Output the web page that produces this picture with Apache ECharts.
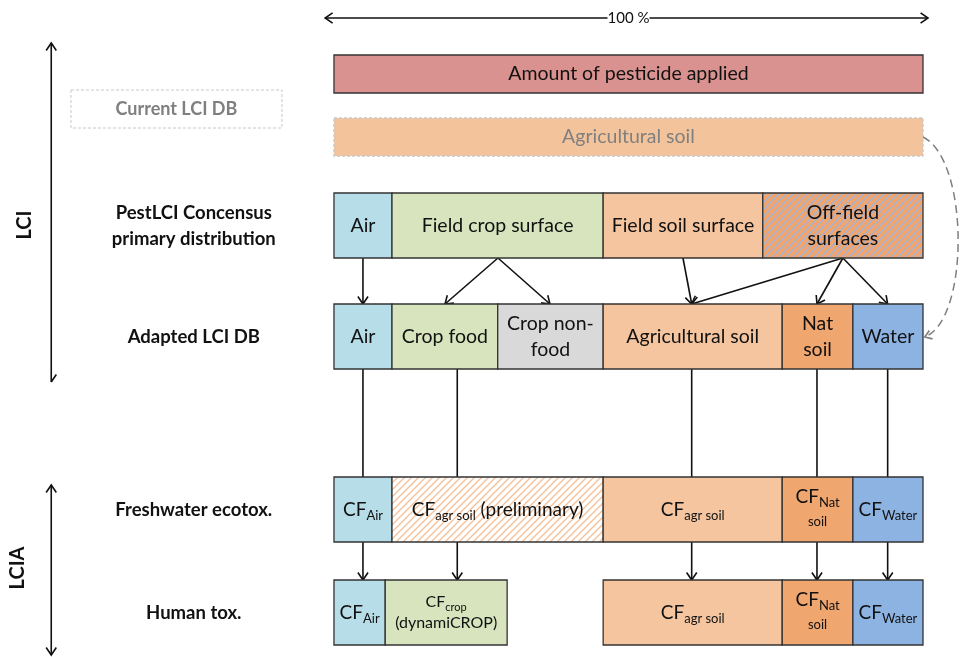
<!DOCTYPE html>
<html>
<head>
<meta charset="utf-8">
<title>Pesticide emission distribution</title>
<script src="https://cdn.jsdelivr.net/npm/echarts@6/dist/echarts.min.js"></script>
<style>
  html, body { margin: 0; padding: 0; background: #fff; }
  #main { width: 965px; height: 657px; }
</style>
</head>
<body>
<div id="main"></div>
<script>
// vertical extent of every level (picture units, top = 0)
const rowTop = [55, 118, 193, 304, 477, 580];
const rowBottom = [93, 156, 258, 369, 542, 645];
const rowTitles = ['', '', 'PestLCI Concensus\nprimary distribution', 'Adapted LCI DB', 'Freshwater ecotox.', 'Human tox.'];

// compartments: share of the applied amount, in % of the width
const amountEdges = [0, 100];
const currentEdges = [0, 100];
const primaryEdges = [0, 9.85, 45.7, 72.8, 100];
const adaptedEdges = [0, 9.85, 27.8, 45.7, 76.1, 88.1, 100];
const ecotoxEdges = [0, 9.85, 45.7, 76.1, 88.1, 100];
const humanStart = [0, 8.7, 45.7, 76.1, 88.1];
const humanEnd = [8.7, 29.4, 76.1, 88.1, 100];

const amountLabels = ['Amount of pesticide applied'];
const currentLabels = ['Agricultural soil'];
const primaryLabels = ['Air', 'Field crop surface', 'Field soil surface', 'Off-field\nsurfaces'];
const adaptedLabels = ['Air', 'Crop food', 'Crop non-\nfood', 'Agricultural soil', 'Nat\nsoil', 'Water'];
const ecotoxLabels = ['{cf|CF}{sub|Air}', '{cf|CF}{sub|agr soil}{cf| (preliminary)}', '{cf|CF}{sub|agr soil}', '{cf|CF}{sub|Nat}\n{sub2|soil}', '{cf|CF}{sub|Water}'];
const humanLabels = ['{cf|CF}{sub|Air}', '{g|CF}{gs|crop}\n{g|(dynamiCROP)}', '{cf|CF}{sub|agr soil}', '{cf|CF}{sub|Nat}\n{sub2|soil}', '{cf|CF}{sub|Water}'];

const amountKinds = ['applied'];
const currentKinds = ['current'];
const primaryKinds = ['air', 'crop', 'soil', 'offfield'];
const adaptedKinds = ['air', 'crop', 'nonfood', 'soil', 'nat', 'water'];
const ecotoxKinds = ['air', 'prelim', 'soil', 'nat', 'water'];
const humanKinds = ['air', 'crop', 'soil', 'nat', 'water'];

// flows between levels (x in %)
const primaryFlowFrom = [4.92, 27.84, 27.84, 59.25, 86.4, 86.4, 86.4];
const primaryFlowTo = [4.92, 18.85, 36.67, 60.73, 60.73, 82.0, 94.0];
const impactFlowX = [4.92, 20.93, 60.73, 82.0, 94.0];

const FONT = 'Lato, "Noto Sans", sans-serif';
const INK = '#111';

function hatch(bg, fg) {
  const c = document.createElement('canvas');
  c.width = c.height = 7;
  const ctx = c.getContext('2d');
  ctx.fillStyle = bg;
  ctx.fillRect(0, 0, 7, 7);
  ctx.strokeStyle = fg;
  ctx.lineWidth = 1.3;
  ctx.beginPath();
  ctx.moveTo(-1, 8); ctx.lineTo(8, -1);
  ctx.moveTo(-1, 1); ctx.lineTo(1, -1);
  ctx.moveTo(6, 8); ctx.lineTo(8, 6);
  ctx.stroke();
  return { image: c, repeat: 'repeat' };
}

const kindStyle = {
  applied: { fill: '#d9928f', stroke: '#333' },
  current: { fill: '#f3c49c', stroke: '#c8c8c8', dash: [3, 2], color: '#7f7f7f' },
  air: { fill: '#b7dde8', stroke: '#333' },
  crop: { fill: '#d7e4bd', stroke: '#333' },
  nonfood: { fill: '#d9d9d9', stroke: '#333' },
  soil: { fill: '#f4c59f', stroke: '#333' },
  nat: { fill: '#efa66f', stroke: '#333' },
  water: { fill: '#8db3e2', stroke: '#333' },
  offfield: { fill: hatch('#f1a56d', '#9fb4dc'), stroke: '#333' },
  prelim: { fill: hatch('#ffffff', '#f7bf95'), stroke: '#333' }
};

const boxes = [];
function addRow(r, starts, ends, labels, kinds) {
  labels.forEach(function (lab, i) {
    boxes.push({ x0: starts[i], x1: ends[i], y0: rowTop[r], y1: rowBottom[r], label: lab, kind: kinds[i] });
  });
}
addRow(0, amountEdges, amountEdges.slice(1), amountLabels, amountKinds);
addRow(1, currentEdges, currentEdges.slice(1), currentLabels, currentKinds);
addRow(2, primaryEdges, primaryEdges.slice(1), primaryLabels, primaryKinds);
addRow(3, adaptedEdges, adaptedEdges.slice(1), adaptedLabels, adaptedKinds);
addRow(4, ecotoxEdges, ecotoxEdges.slice(1), ecotoxLabels, ecotoxKinds);
addRow(5, humanStart, humanEnd, humanLabels, humanKinds);

const links = [];
primaryFlowFrom.forEach(function (x, i) {
  links.push([x, rowBottom[2], primaryFlowTo[i], rowTop[3], 1]);
});
impactFlowX.forEach(function (x) {
  links.push([x, rowBottom[3], x, rowTop[4], 0]);
  links.push([x, rowBottom[4], x, rowTop[5], 1]);
});

const rich = {
  cf: { fontSize: 19, fontFamily: FONT, color: INK, lineHeight: 25 },
  sub: { fontSize: 13, fontFamily: FONT, color: INK, lineHeight: 25, verticalAlign: 'bottom' },
  sub2: { fontSize: 13, fontFamily: FONT, color: INK, lineHeight: 25 },
  g: { fontSize: 16, fontFamily: FONT, color: '#1fa84a', lineHeight: 21 },
  gs: { fontSize: 11, fontFamily: FONT, color: '#1fa84a', lineHeight: 21, verticalAlign: 'bottom' }
};

function head(tip, from, len, left, right) {
  const a = Math.atan2(from[1] - tip[1], from[0] - tip[0]);
  const pts = [];
  if (left !== false) pts.push([tip[0] + len * Math.cos(a + 0.6), tip[1] + len * Math.sin(a + 0.6)]);
  pts.push(tip);
  if (right !== false) pts.push([tip[0] + len * Math.cos(a - 0.6), tip[1] + len * Math.sin(a - 0.6)]);
  return { type: 'polyline', shape: { points: pts }, style: { fill: null, stroke: INK, lineWidth: 1.6 } };
}

const chart = echarts.init(document.getElementById('main'));
chart.setOption({
  animation: false,
  grid: { left: 0, right: 0, top: 0, bottom: 0 },
  xAxis: { type: 'value', min: -56.7, max: 107.13, show: false },
  yAxis: { type: 'value', min: 0, max: 657, inverse: true, show: false },
  series: [
    {
      // flows
      type: 'custom',
      data: links,
      renderItem: function (params, api) {
        const p0 = api.coord([api.value(0), api.value(1)]);
        const p1 = api.coord([api.value(2), api.value(3)]);
        const kids = [{ type: 'line', shape: { x1: p0[0], y1: p0[1], x2: p1[0], y2: p1[1] }, style: { stroke: INK, lineWidth: 1.6 } }];
        if (api.value(4)) kids.push(head(p1, p0, 9));
        return { type: 'group', children: kids };
      }
    },
    {
      // compartments
      type: 'custom',
      data: boxes.map(function (b) { return [b.x0, b.x1, b.y0, b.y1]; }),
      renderItem: function (params, api) {
        const b = boxes[params.dataIndex];
        const st = kindStyle[b.kind];
        const p0 = api.coord([api.value(0), api.value(2)]);
        const p1 = api.coord([api.value(1), api.value(3)]);
        return {
          type: 'group',
          children: [
            {
              type: 'rect',
              shape: { x: p0[0], y: p0[1], width: p1[0] - p0[0], height: p1[1] - p0[1] },
              style: { fill: st.fill, stroke: st.stroke, lineWidth: 1.3, lineDash: st.dash || null }
            },
            {
              type: 'text',
              x: (p0[0] + p1[0]) / 2,
              y: (p0[1] + p1[1]) / 2,
              style: {
                text: b.label, rich: rich, align: 'center', verticalAlign: 'middle',
                fontSize: 19.5, fontFamily: FONT, fill: st.color || INK, lineHeight: 26
              }
            }
          ]
        };
      }
    },
    {
      // annotations on the left and the guides
      type: 'custom',
      data: [[0]],
      renderItem: function (params, api) {
        const kids = [];
        const c = function (x, y) { return api.coord([x, y]); };
        // 100 % arrow
        const a0 = c(-1.5, 18), a1 = c(100.85, 18);
        kids.push({ type: 'line', shape: { x1: a0[0], y1: a0[1], x2: a1[0], y2: a1[1] }, style: { stroke: INK, lineWidth: 1.6 } });
        kids.push(head(a0, a1, 9), head(a1, a0, 9));
        const t = c(50, 18);
        kids.push({ type: 'text', x: t[0], y: t[1], style: { text: '100 %', fontSize: 15, fontFamily: FONT, fill: INK, align: 'center', verticalAlign: 'middle', backgroundColor: '#fff' } });
        // LCI / LCIA arrows
        const l0 = c(-48, 43), l1 = c(-48, 382);
        kids.push({ type: 'line', shape: { x1: l0[0], y1: l0[1], x2: l1[0], y2: l1[1] }, style: { stroke: INK, lineWidth: 1.6 } });
        kids.push(head(l0, l1, 9), head(l1, l0, 9, true, false));
        const m0 = c(-48, 485), m1 = c(-48, 655);
        kids.push({ type: 'line', shape: { x1: m0[0], y1: m0[1], x2: m1[0], y2: m1[1] }, style: { stroke: INK, lineWidth: 1.6 } });
        kids.push(head(m0, m1, 9), head(m1, m0, 9));
        const lt = c(-52.6, 225), mt = c(-53.8, 568);
        kids.push({ type: 'text', x: lt[0], y: lt[1], rotation: Math.PI / 2, style: { text: 'LCI', fontSize: 20, fontWeight: 'bold', fontFamily: FONT, fill: INK, align: 'center', verticalAlign: 'middle' } });
        kids.push({ type: 'text', x: mt[0], y: mt[1], rotation: Math.PI / 2, style: { text: 'LCIA', fontSize: 20, fontWeight: 'bold', fontFamily: FONT, fill: INK, align: 'center', verticalAlign: 'middle' } });
        // Current LCI DB tag
        const d0 = c(-44.65, 90), d1 = c(-8.83, 128);
        kids.push({ type: 'rect', shape: { x: d0[0], y: d0[1], width: d1[0] - d0[0], height: d1[1] - d0[1] }, style: { fill: null, stroke: '#c8c8c8', lineWidth: 1, lineDash: [3, 2] } });
        kids.push({ type: 'text', x: (d0[0] + d1[0]) / 2, y: (d0[1] + d1[1]) / 2, style: { text: 'Current LCI DB', fontSize: 18, fontWeight: 'bold', fontFamily: FONT, fill: '#7f7f7f', align: 'center', verticalAlign: 'middle' } });
        // row titles
        rowTitles.forEach(function (txt, r) {
          if (!txt) return;
          const p = c(-23.8, (rowTop[r] + rowBottom[r]) / 2 + 1);
          kids.push({ type: 'text', x: p[0], y: p[1], style: { text: txt, fontSize: 18.5, fontWeight: 'bold', fontFamily: FONT, fill: INK, align: 'center', verticalAlign: 'middle', lineHeight: 26 } });
        });
        // dashed link: current agricultural soil -> water
        const s = c(100, 137), e = c(100.3, 337), q1 = c(107.9, 160), q2 = c(107.9, 320);
        kids.push({ type: 'bezierCurve', shape: { x1: s[0], y1: s[1], cpx1: q1[0], cpy1: q1[1], cpx2: q2[0], cpy2: q2[1], x2: e[0], y2: e[1] }, style: { fill: null, stroke: '#7f7f7f', lineWidth: 1.5, lineDash: [8, 5] } });
        const hk = head(e, q2, 8);
        hk.style.stroke = '#7f7f7f';
        kids.push(hk);
        return { type: 'group', children: kids };
      }
    }
  ]
});
</script>
</body>
</html>
